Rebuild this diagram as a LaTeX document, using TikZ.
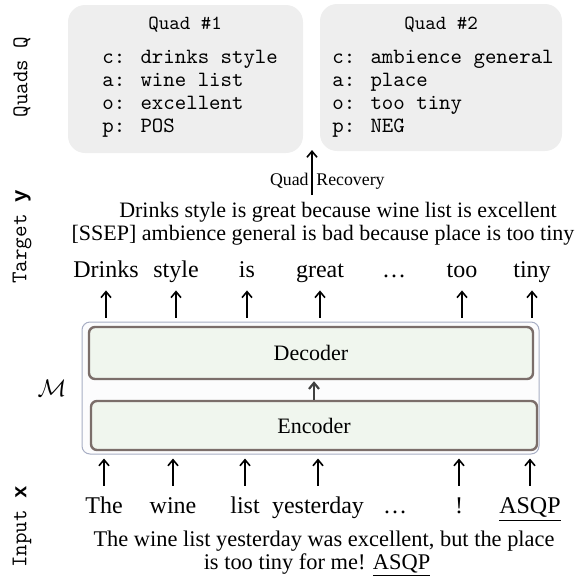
\documentclass[tikz,border=0pt]{standalone}
\usepackage{amsmath}
\usepackage{fontspec}
\setmainfont{Liberation Serif}
\newfontfamily\boldmono{Liberation Mono}
\usepackage{tikz}
\usetikzlibrary{arrows.meta}
\definecolor{quadgray}{HTML}{EEEEEE}
\definecolor{modelline}{HTML}{A7AEC4}
\definecolor{modelfill}{HTML}{FCFCFD}
\definecolor{blockline}{HTML}{7B6E6A}
\definecolor{blockfill}{HTML}{F0F6EE}
\tikzset{
  outtok/.style={font=\fontsize{12}{14}\selectfont, inner sep=0pt, text height=8.5pt, text depth=2.5pt, anchor=base},
  intok/.style={outtok},
  sentence/.style={font=\fontsize{11.2}{13}\selectfont, inner sep=0pt, anchor=base},
  quadtext/.style={font=\ttfamily\fontsize{10.9}{12}\selectfont, inner sep=0pt, anchor=base west},
  quadtitle/.style={font=\ttfamily\fontsize{10}{11}\selectfont, inner sep=0pt, anchor=base},
  quadbox/.style={rectangle, fill=quadgray, rounded corners=8.5pt, inner sep=0pt},
  side/.style={font=\ttfamily\fontsize{11.2}{12}\selectfont, rotate=90, inner sep=0pt},
  block/.style={rectangle, draw=blockline, fill=blockfill, line width=1.2pt, rounded corners=3pt, inner sep=0pt, font=\fontsize{11}{13}\selectfont},
  tokarrow/.style={->, line width=0.8pt},
}
\newcommand{\outtoken}[3] {\node at (#1) (#2) [outtok] {#3};}
\newcommand{\intoken}[3] {\node at (#1) (#2) [intok] {#3};}
\newcommand{\quadline}[3] {\node at (#1) (#2) [quadtext] {#3};}
\newcommand{\sidelabel}[3] {\node at (#1) (#2) [side] {#3};}
\newcommand{\outarrow}[1] {\draw [tokarrow, shorten <=2pt, shorten >=4pt] (#1.south |- model.north) -- (#1.south);}
\newcommand{\inarrow}[1] {\draw [tokarrow, shorten <=5pt, shorten >=2pt] (#1.north) -- (#1.north |- model.south);}
\newcommand{\bvar}[1] {{\boldmono\bfseries\fontsize{10.4}{12}\selectfont #1}}

\begin{document}
\begin{tikzpicture}[x=0.5pt, y=-0.5pt, >={Straight Barb[length=3pt, width=5pt]}]
\useasboundingbox (0,0) rectangle (575,579);

% quads
\node at (185.5,79) (quad1) [quadbox, minimum width=117.5pt, minimum height=74pt] {};
\node at (441,77.5) (quad2) [quadbox, minimum width=121pt, minimum height=73.5pt] {};
\node at (185,29) (title1) [quadtitle] {Quad \#1};
\node at (441,29) (title2) [quadtitle] {Quad \#2};
\quadline {102,63}{q1c}{c: drinks style}
\quadline {102,86}{q1a}{a: wine list}
\quadline {102,109}{q1o}{o: excellent}
\quadline {102,132}{q1p}{p: POS}
\quadline {332,63}{q2c}{c: ambience general}
\quadline {332,86}{q2a}{a: place}
\quadline {332,109}{q2o}{o: too tiny}
\quadline {332,132}{q2p}{p: NEG}

% recovery
\coordinate (rec) at (312,195);
\coordinate (rectop) at (312,150);
\draw [tokarrow] (rec) -- (rectop);
\node at (309,185) (recq) [sentence, anchor=base east, font=\fontsize{8.9}{10}\selectfont] {Quad};
\node at (316,185) (recr) [sentence, anchor=base west, font=\fontsize{8.9}{10}\selectfont] {Recovery};

% target
\node at (338,217) (target1) [sentence, font=\fontsize{11}{13}\selectfont] {Drinks style is great because wine list is excellent};
\node at (323,240) (target2) [sentence, font=\fontsize{11}{13}\selectfont] {[SSEP] ambience general is bad because place is too tiny};

% model
\node at (310.5,388) (model) [rectangle, draw=modelline, fill=modelfill, rounded corners=4pt, line width=0.5pt, minimum width=228.5pt, minimum height=66pt, inner sep=0pt] {};
\node at (311,353) (decoder) [block, minimum width=222pt, minimum height=26pt] {Decoder};
\node at (314,425.5) (encoder) [block, minimum width=223pt, minimum height=24.5pt] {Encoder};
\draw [->, line width=1.1pt, color=black!75, shorten >=0.5pt] (encoder.north) -- (encoder.north |- decoder.south);
\node at (52,388) (mlabel) {\fontsize{13}{15}\selectfont$\mathcal{M}$};

% output tokens
\outtoken {106,277}{o1}{Drinks}
\outtoken {176,277}{o2}{style}
\outtoken {247,277}{o3}{is}
\outtoken {320,277}{o4}{great}
\outtoken {394,277}{o5}{\dots}
\outtoken {462,277}{o6}{too}
\outtoken {532,277}{o7}{tiny}
\foreach \n in {o1,o2,o3,o4,o6,o7} {\outarrow{\n}}

% input tokens
\intoken {104,513}{i1}{The}
\intoken {173,513}{i2}{wine}
\intoken {245,513}{i3}{list}
\intoken {318,513}{i4}{yesterday}
\intoken {395,513}{i5}{\dots}
\intoken {459,513}{i6}{!}
\intoken {530,513}{i7}{\underline{ASQP}}
\foreach \n in {i1,i2,i3,i4,i6,i7} {\inarrow{\n}}

% input sentence
\node at (324,546) (input1) [sentence] {The wine list yesterday was excellent, but the place};
\node at (317,569) (input2) [sentence] {is too tiny for me! \underline{ASQP}};

% side labels
\sidelabel {22,77}{sideq}{Quads Q}
\sidelabel {22,237}{sidey}{Target \bvar{y}}
\sidelabel {22,527}{sidex}{Input \bvar{x}}
\end{tikzpicture}
\end{document}
